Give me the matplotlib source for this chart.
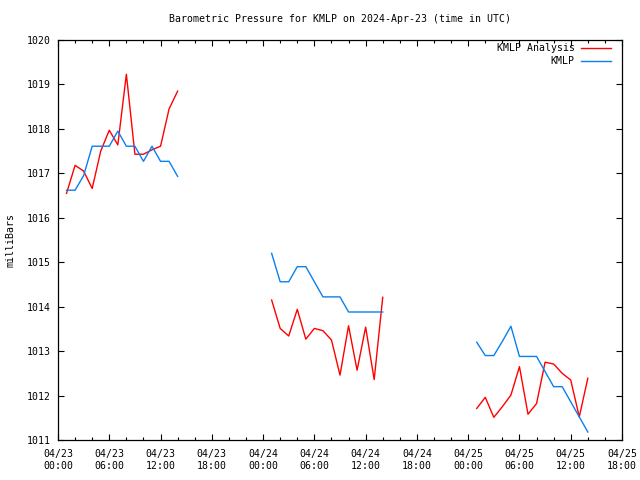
import matplotlib
matplotlib.use("Agg")
import matplotlib.pyplot as plt
from matplotlib.lines import Line2D
import numpy as np

plt.rcParams['font.family'] = ['DejaVu Sans Mono']
plt.rcParams['font.size'] = 7.1

# hours since 2024-04-23 00:00 UTC
hours_1 = list(range(1, 15))
hours_2 = list(range(25, 39))
hours_3 = list(range(49, 63))

analysis_1 = [1016.55, 1017.18, 1017.05, 1016.66, 1017.5, 1017.97, 1017.64,
              1019.23, 1017.43, 1017.43, 1017.53, 1017.61, 1018.45, 1018.85]
analysis_2 = [1014.15, 1013.51, 1013.34, 1013.94, 1013.27, 1013.51, 1013.46,
              1013.25, 1012.46, 1013.57, 1012.57, 1013.54, 1012.36, 1014.21]
analysis_3 = [1011.71, 1011.96, 1011.51, 1011.75, 1012.01, 1012.65, 1011.58,
              1011.82, 1012.75, 1012.71, 1012.5, 1012.35, 1011.52, 1012.39]

obs_1 = [1016.62, 1016.62, 1016.95, 1017.61, 1017.61, 1017.61, 1017.95,
         1017.61, 1017.61, 1017.27, 1017.61, 1017.27, 1017.27, 1016.93]
obs_2 = [1015.2, 1014.56, 1014.56, 1014.9, 1014.9, 1014.56, 1014.22,
         1014.22, 1014.22, 1013.88, 1013.88, 1013.88, 1013.88, 1013.88]
obs_3 = [1013.2, 1012.9, 1012.9, 1013.22, 1013.56, 1012.88, 1012.88,
         1012.88, 1012.54, 1012.2, 1012.2, 1011.86, 1011.52, 1011.18]

xtick_hours = list(range(0, 67, 6))
xtick_labels = ["04/23\n00:00", "04/23\n06:00", "04/23\n12:00", "04/23\n18:00",
                "04/24\n00:00", "04/24\n06:00", "04/24\n12:00", "04/24\n18:00",
                "04/25\n00:00", "04/25\n06:00", "04/25\n12:00", "04/25\n18:00"]
ytick_values = list(range(1011, 1021))

RED = "#ff0000"
BLUE = "#0a80f0"

fig = plt.figure(figsize=(6.4, 4.8), dpi=100)
ax = fig.add_axes([58/640, 1-440/480, 564/640, 400/480])

for h, a in [(hours_1, analysis_1), (hours_2, analysis_2), (hours_3, analysis_3)]:
    ax.plot(h, a, color=RED, lw=1.0)
for h, o in [(hours_1, obs_1), (hours_2, obs_2), (hours_3, obs_3)]:
    ax.plot(h, o, color=BLUE, lw=1.0)

ax.set_xlim(0, 66)
ax.set_ylim(1011, 1020)
ax.set_xticks(xtick_hours)
ax.set_xticklabels(xtick_labels)
ax.set_xticks(list(range(0, 67, 2)), minor=True)
ax.set_yticks(ytick_values)
ax.set_yticklabels([str(v) for v in ytick_values])
ax.tick_params(axis='both', which='both', direction='in', top=True, right=True,
               width=0.8, colors='black')
ax.tick_params(axis='both', which='major', length=4)
ax.tick_params(axis='both', which='minor', length=2)
ax.tick_params(axis='x', which='major', pad=6.5)
ax.tick_params(axis='y', which='major', pad=5)
for s in ax.spines.values():
    s.set_linewidth(0.9)

fig.text(340/640, 1-19/480, "Barometric Pressure for KMLP on 2024-Apr-23 (time in UTC)",
         ha='center', va='center')
fig.text(11/640, 1-240/480, "milliBars", rotation=90, ha='center', va='center')

handles = [Line2D([], [], color=RED, lw=1.0), Line2D([], [], color=BLUE, lw=1.0)]
ax.legend(handles, ["KMLP Analysis", "KMLP"], loc='upper right', frameon=False,
          markerfirst=False, handlelength=3.0, handletextpad=0.7,
          borderaxespad=0, borderpad=0, labelspacing=0.35,
          bbox_to_anchor=(611/640, 1-43/480), bbox_transform=fig.transFigure)

fig.savefig("out.png", dpi=100)
